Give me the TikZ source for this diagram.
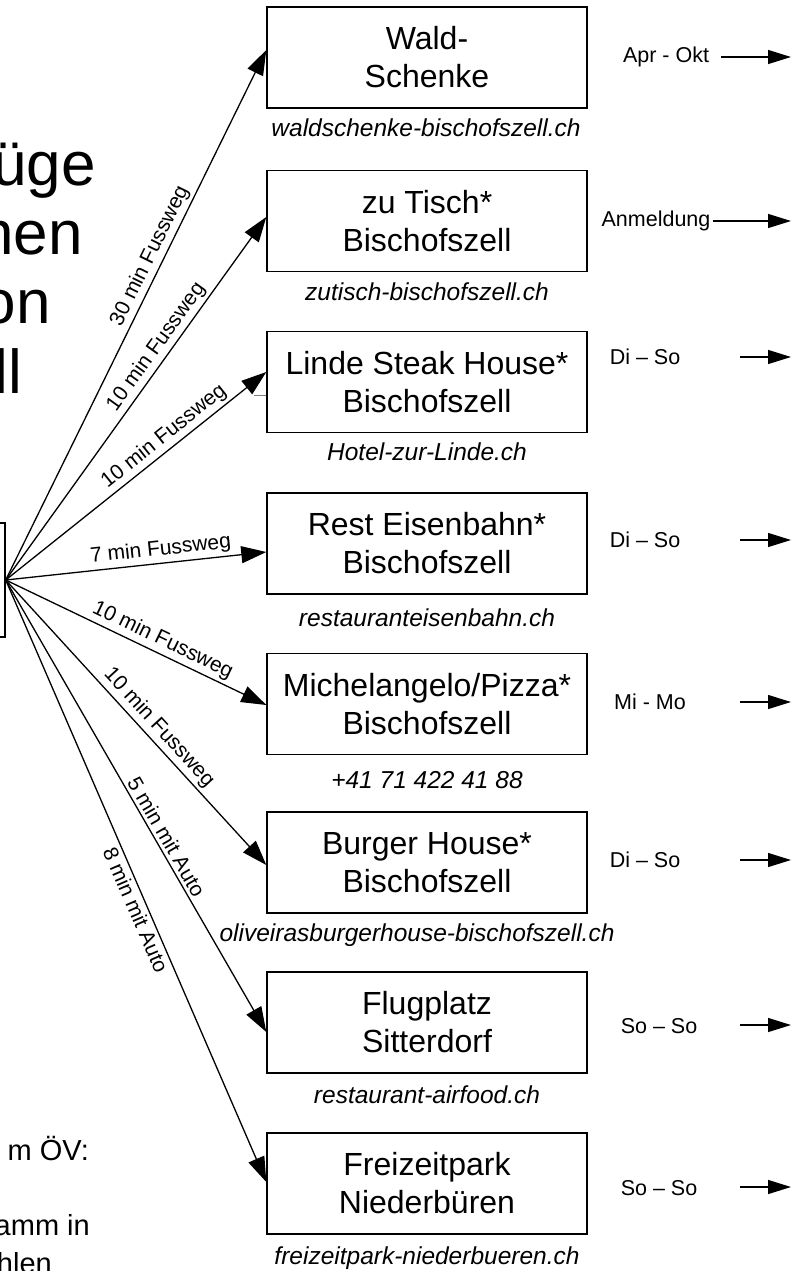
\documentclass[tikz,border=0pt]{standalone}
\usepackage{fontspec}
\setmainfont{Liberation Sans}
\usetikzlibrary{arrows.meta}
\begin{document}
\begin{tikzpicture}[x=1pt,y=-1pt,
  box/.style={draw, line width=1.4pt, fill=white, minimum width=320pt, minimum height=101pt, align=center, font=\fontsize{32}{38}\selectfont, inner sep=0pt},
  url/.style={font=\fontsize{24.5}{28}\selectfont\itshape, inner sep=0pt},
  elab/.style={font=\fontsize{21}{25}\selectfont, sloped, inner sep=3pt},
  conn/.style={line width=1.3pt, -{Triangle[length=25pt,width=17pt]}},
  rarr/.style={line width=1.3pt, -{Triangle[length=23pt,width=14pt]}},
  side/.style={font=\fontsize{21.5}{25}\selectfont, inner sep=0pt},
  big/.style={font=\fontsize{62}{66}\selectfont, inner sep=0pt, anchor=base east},
  small/.style={font=\fontsize{29}{32}\selectfont, inner sep=0pt, anchor=base east},
]
\useasboundingbox (0,0) rectangle (792,1271);
\fill[white] (0,0) rectangle (792,1271);

% title fragments
\node[big] (t1) at (96,185) {üge};
\node[big] (t2) at (83,254) {hen};
\node[big] (t3) at (51,323) {on};
\node[big] (t4) at (22,393) {ll};

% bottom-left fragments
\node[small] (n1) at (89,1160) {m ÖV:};
\node[small] (n2) at (90,1235) {amm in};
\node[small] (n3) at (52,1273) {hlen};

% source box
\node[draw, line width=1.4pt, minimum width=60pt, minimum height=114pt] (src) at (-25,580) {};

% boxes
\node[box] (b1) at (427,57.5) {Wald-\\Schenke};
\node[box] (b2) at (427,221) {zu Tisch*\\Bischofszell};
\node[box] (b3) at (427,382) {Linde Steak House*\\Bischofszell};
\node[box] (b4) at (427,543.5) {Rest Eisenbahn*\\Bischofszell};
\node[box] (b5) at (427,704) {Michelangelo/Pizza*\\Bischofszell};
\node[box] (b6) at (427,862.5) {Burger House*\\Bischofszell};
\node[box] (b7) at (427,1022.5) {Flugplatz\\Sitterdorf};
\node[box] (b8) at (427,1183.5) {Freizeitpark\\Niederbüren};

% urls
\node[url] (u1) at (426,128) {waldschenke-bischofszell.ch};
\node[url] (u2) at (427,292) {zutisch-bischofszell.ch};
\node[url] (u3) at (427,452) {Hotel-zur-Linde.ch};
\node[url] (u4) at (427,618) {restauranteisenbahn.ch};
\node[url] (u5) at (427,780) {+41 71 422 41 88};
\node[url] (u6) at (417,935) {oliveirasburgerhouse-bischofszell.ch};
\node[url] (u7) at (427,1095) {restaurant-airfood.ch};
\node[url] (u8) at (427,1258) {freizeitpark-niederbueren.ch};

% small stub at Linde box
\draw[gray, line width=1pt] ([yshift=-13pt]b3.west) -- ++(-12,0);

% connectors
\draw[conn] (src.east) -- node[elab, pos=0.6, above] {30 min Fussweg} ([yshift=7.5pt]b1.west);
\draw[conn] (src.east) -- node[elab, pos=0.62, above] {10 min Fussweg} ([yshift=4pt]b2.west);
\draw[conn] (src.east) -- node[elab, pos=0.64, above] {10 min Fussweg} ([yshift=10pt]b3.west);
\draw[conn] (src.east) -- node[elab, pos=0.6, above] {7 min Fussweg} ([yshift=-8.5pt]b4.west);
\draw[conn] (src.east) -- node[elab, pos=0.58, above] {10 min Fussweg} ([yshift=-1pt]b5.west);
\draw[conn] (src.east) -- node[elab, pos=0.55, above] {10 min Fussweg} ([yshift=-2.5pt]b6.west);
\draw[conn] (src.east) -- node[elab, pos=0.58, above] {5 min mit Auto} ([yshift=-9.5pt]b7.west);
\draw[conn] (src.east) -- node[elab, pos=0.54, below] {8 min mit Auto} ([yshift=1.5pt]b8.west);

% right side labels and arrows
\node[side] (s1) at (666,57) {Apr - Okt};
\node[side] (s2) at (656,221) {Anmeldung};
\node[side] (s3) at (645,357) {Di – So};
\node[side] (s4) at (645,540) {Di – So};
\node[side] (s5) at (650,702) {Mi - Mo};
\node[side] (s6) at (645,860) {Di – So};
\node[side] (s7) at (659,1026) {So – So};
\node[side] (s8) at (659,1188) {So – So};

\coordinate (e1) at (791,57);
\coordinate (e2) at (791,221);
\coordinate (e3) at (791,357);
\coordinate (e4) at (791,540);
\coordinate (e5) at (791,702);
\coordinate (e6) at (791,860);
\coordinate (e7) at (791,1025);
\coordinate (e8) at (791,1187);
\draw[rarr] ([xshift=12pt]s1.east) -- (e1);
\draw[rarr] ([xshift=2pt]s2.east) -- (e2);
\draw[rarr] (740,357) -- (e3);
\draw[rarr] (740,540) -- (e4);
\draw[rarr] (740,702) -- (e5);
\draw[rarr] (740,860) -- (e6);
\draw[rarr] (740,1025) -- (e7);
\draw[rarr] (740,1187) -- (e8);
\end{tikzpicture}
\end{document}
